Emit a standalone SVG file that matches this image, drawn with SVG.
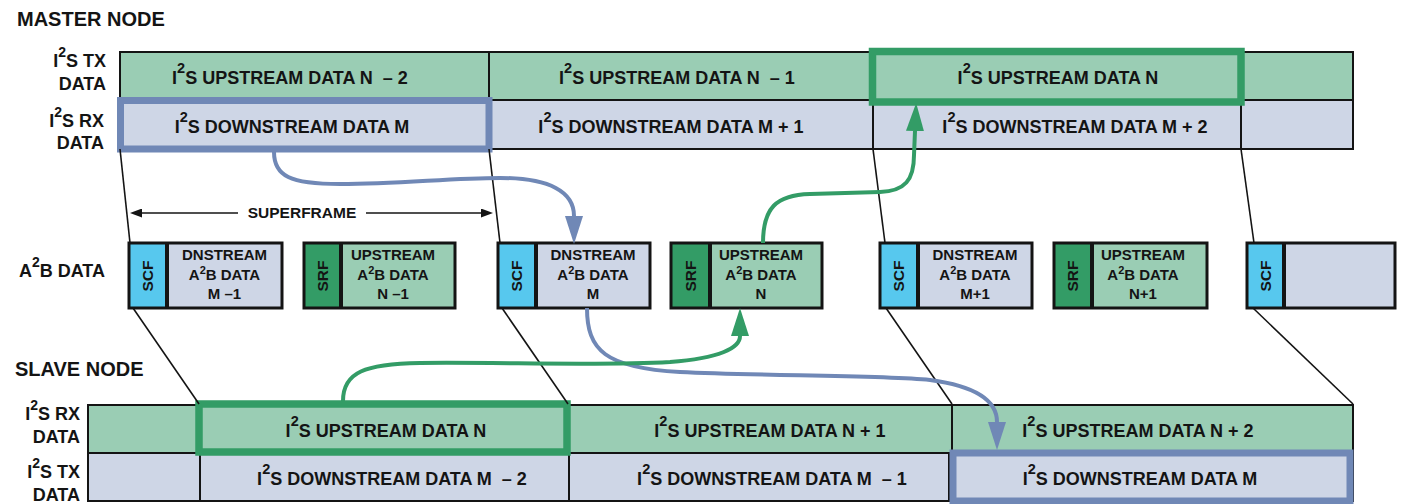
<svg xmlns="http://www.w3.org/2000/svg" width="1405" height="504" viewBox="0 0 1405 504">
<style>
.t{font-family:"Liberation Sans",Arial,Helvetica,sans-serif;font-weight:bold;fill:#141414}
.hd{font-size:20px}
.lb{font-size:18px;text-anchor:end}
.cl{font-size:18px;text-anchor:middle}
.ab{font-size:15px;text-anchor:middle}
.sf{font-size:15.5px;text-anchor:middle}
.up{fill:#9ACDB4;stroke:#141414;stroke-width:2}
.dn{fill:#CED6E6;stroke:#141414;stroke-width:2}
.scf{fill:#57C8EE}
.srf{fill:#339C66}
.upf{fill:#9ACDB4}
.dnf{fill:#CED6E6}
.fr{fill:none;stroke:#141414;stroke-width:3}
.dv{stroke:#141414;stroke-width:4}
.hlb{fill:none;stroke:#7088B6;stroke-width:7}
.hlg{fill:none;stroke:#339C66;stroke-width:7.5}
.sl{stroke:#141414;stroke-width:1.6;fill:none}
.cb{fill:none;stroke:#7088B6;stroke-width:4}
.cg{fill:none;stroke:#339C66;stroke-width:4}
</style>
<defs>
<marker id="ab" markerUnits="userSpaceOnUse" markerWidth="28" markerHeight="20" viewBox="0 0 28 20" refX="0" refY="10" orient="auto"><path d="M0,1 L28,10 L0,19 z" fill="#7088B6"/></marker>
<marker id="ag" markerUnits="userSpaceOnUse" markerWidth="28" markerHeight="20" viewBox="0 0 28 20" refX="0" refY="10" orient="auto"><path d="M0,1 L28,10 L0,19 z" fill="#339C66"/></marker>
<marker id="ak" markerUnits="userSpaceOnUse" markerWidth="12" markerHeight="9" viewBox="0 0 12 9" refX="0" refY="4.5" orient="auto"><path d="M0,0 L12,4.5 L0,9 z" fill="#141414"/></marker>
</defs>

<g id="labels">
<text class="t hd" x="17" y="26">MASTER NODE</text>
<text class="t lb" x="106" y="67">I<tspan font-size="14" dy="-10">2</tspan><tspan dy="10">S TX</tspan></text>
<text class="t lb" x="106" y="90">DATA</text>
<text class="t lb" x="104" y="127">I<tspan font-size="14" dy="-10">2</tspan><tspan dy="10">S RX</tspan></text>
<text class="t lb" x="104" y="149">DATA</text>
<text class="t lb" x="105" y="277">A<tspan font-size="14" dy="-10">2</tspan><tspan dy="10">B DATA</tspan></text>
<text class="t hd" x="15" y="376">SLAVE NODE</text>
<text class="t lb" x="80" y="420">I<tspan font-size="14" dy="-10">2</tspan><tspan dy="10">S RX</tspan></text>
<text class="t lb" x="80" y="443">DATA</text>
<text class="t lb" x="80" y="478">I<tspan font-size="14" dy="-10">2</tspan><tspan dy="10">S TX</tspan></text>
<text class="t lb" x="80" y="501">DATA</text>
</g>

<g id="master-tx">
<rect class="up" x="120" y="52" width="369" height="48"/>
<rect class="up" x="489" y="52" width="383" height="48"/>
<rect class="up" x="872" y="52" width="369" height="48"/>
<rect class="up" x="1241" y="52" width="112" height="48"/>
<text class="t cl" x="290" y="84">I<tspan font-size="14.5" dy="-11">2</tspan><tspan dy="11">S UPSTREAM DATA N &#160;– 2</tspan></text>
<text class="t cl" x="677" y="84">I<tspan font-size="14.5" dy="-11">2</tspan><tspan dy="11">S UPSTREAM DATA N &#160;– 1</tspan></text>
<text class="t cl" x="1058" y="84">I<tspan font-size="14.5" dy="-11">2</tspan><tspan dy="11">S UPSTREAM DATA N</tspan></text>
</g>
<g id="master-rx">
<rect class="dn" x="120" y="100" width="369" height="49"/>
<rect class="dn" x="489" y="100" width="384" height="49"/>
<rect class="dn" x="873" y="100" width="368" height="49"/>
<rect class="dn" x="1241" y="100" width="112" height="49"/>
<text class="t cl" x="292" y="133">I<tspan font-size="14.5" dy="-11">2</tspan><tspan dy="11">S DOWNSTREAM DATA M</tspan></text>
<text class="t cl" x="671" y="133">I<tspan font-size="14.5" dy="-11">2</tspan><tspan dy="11">S DOWNSTREAM DATA M + 1</tspan></text>
<text class="t cl" x="1075" y="133">I<tspan font-size="14.5" dy="-11">2</tspan><tspan dy="11">S DOWNSTREAM DATA M + 2</tspan></text>
</g>
<g id="master-highlights">
<rect class="hlb" x="120.5" y="100.5" width="368.5" height="48.5"/>
<rect class="hlg" x="872.5" y="51.5" width="368.5" height="50.5"/>
</g>

<g id="slave-rx">
<rect class="up" x="88" y="405" width="111" height="48"/>
<rect class="up" x="199" y="405" width="368" height="48"/>
<rect class="up" x="567" y="405" width="385" height="48"/>
<rect class="up" x="952" y="405" width="401" height="48"/>
<text class="t cl" x="386" y="437">I<tspan font-size="14.5" dy="-11">2</tspan><tspan dy="11">S UPSTREAM DATA N</tspan></text>
<text class="t cl" x="770" y="437">I<tspan font-size="14.5" dy="-11">2</tspan><tspan dy="11">S UPSTREAM DATA N + 1</tspan></text>
<text class="t cl" x="1138" y="437">I<tspan font-size="14.5" dy="-11">2</tspan><tspan dy="11">S UPSTREAM DATA N + 2</tspan></text>
</g>
<g id="slave-tx">
<rect class="dn" x="88" y="453" width="112" height="48"/>
<rect class="dn" x="200" y="453" width="369" height="48"/>
<rect class="dn" x="569" y="453" width="380" height="48"/>
<rect class="dn" x="949" y="453" width="404" height="48"/>
<text class="t cl" x="392" y="485">I<tspan font-size="14.5" dy="-11">2</tspan><tspan dy="11">S DOWNSTREAM DATA M &#160;– 2</tspan></text>
<text class="t cl" x="772" y="485">I<tspan font-size="14.5" dy="-11">2</tspan><tspan dy="11">S DOWNSTREAM DATA M &#160;– 1</tspan></text>
<text class="t cl" x="1140" y="485">I<tspan font-size="14.5" dy="-11">2</tspan><tspan dy="11">S DOWNSTREAM DATA M</tspan></text>
</g>
<g id="slave-highlights">
<rect class="hlg" x="199" y="404" width="368" height="48"/>
<rect class="hlb" x="953" y="453" width="397" height="48"/>
</g>

<g id="a2b-dn-m-1">
<rect class="scf" x="129" y="243" width="38" height="65"/><rect class="dnf" x="167" y="243" width="115" height="65"/>
<rect class="fr" x="129" y="243" width="153" height="65"/><line class="dv" x1="167" y1="243" x2="167" y2="308"/>
<text class="t sf" transform="translate(148,276) rotate(-90)" y="5.4">SCF</text>
<text class="t ab" x="224.5" y="260">DNSTREAM</text>
<text class="t ab" x="224.5" y="280">A<tspan font-size="11" dy="-6">2</tspan><tspan dy="6">B DATA</tspan></text>
<text class="t ab" x="224.5" y="299">M –1</text>
</g>
<g id="a2b-up-n-1">
<rect class="srf" x="304" y="243" width="37" height="65"/><rect class="upf" x="341" y="243" width="114" height="65"/>
<rect class="fr" x="304" y="243" width="151" height="65"/><line class="dv" x1="341" y1="243" x2="341" y2="308"/>
<text class="t sf" transform="translate(322.5,276) rotate(-90)" y="5.4">SRF</text>
<text class="t ab" x="393" y="260">UPSTREAM</text>
<text class="t ab" x="393" y="280">A<tspan font-size="11" dy="-6">2</tspan><tspan dy="6">B DATA</tspan></text>
<text class="t ab" x="393" y="299">N –1</text>
</g>
<g id="a2b-dn-m">
<rect class="scf" x="498" y="243" width="38" height="65"/><rect class="dnf" x="536" y="243" width="114" height="65"/>
<rect class="fr" x="498" y="243" width="152" height="65"/><line class="dv" x1="536" y1="243" x2="536" y2="308"/>
<text class="t sf" transform="translate(517,276) rotate(-90)" y="5.4">SCF</text>
<text class="t ab" x="593" y="260">DNSTREAM</text>
<text class="t ab" x="593" y="280">A<tspan font-size="11" dy="-6">2</tspan><tspan dy="6">B DATA</tspan></text>
<text class="t ab" x="593" y="299">M</text>
</g>
<g id="a2b-up-n">
<rect class="srf" x="671" y="243" width="39" height="65"/><rect class="upf" x="710" y="243" width="112" height="65"/>
<rect class="fr" x="671" y="243" width="151" height="65"/><line class="dv" x1="710" y1="243" x2="710" y2="308"/>
<text class="t sf" transform="translate(690.5,276) rotate(-90)" y="5.4">SRF</text>
<text class="t ab" x="761" y="260">UPSTREAM</text>
<text class="t ab" x="761" y="280">A<tspan font-size="11" dy="-6">2</tspan><tspan dy="6">B DATA</tspan></text>
<text class="t ab" x="761" y="299">N</text>
</g>
<g id="a2b-dn-m1">
<rect class="scf" x="880" y="243" width="38" height="65"/><rect class="dnf" x="918" y="243" width="114" height="65"/>
<rect class="fr" x="880" y="243" width="152" height="65"/><line class="dv" x1="918" y1="243" x2="918" y2="308"/>
<text class="t sf" transform="translate(899,276) rotate(-90)" y="5.4">SCF</text>
<text class="t ab" x="975" y="260">DNSTREAM</text>
<text class="t ab" x="975" y="280">A<tspan font-size="11" dy="-6">2</tspan><tspan dy="6">B DATA</tspan></text>
<text class="t ab" x="975" y="299">M+1</text>
</g>
<g id="a2b-up-n1">
<rect class="srf" x="1054" y="243" width="38" height="65"/><rect class="upf" x="1092" y="243" width="115" height="65"/>
<rect class="fr" x="1054" y="243" width="153" height="65"/><line class="dv" x1="1092" y1="243" x2="1092" y2="308"/>
<text class="t sf" transform="translate(1073,276) rotate(-90)" y="5.4">SRF</text>
<text class="t ab" x="1143" y="260">UPSTREAM</text>
<text class="t ab" x="1143" y="280">A<tspan font-size="11" dy="-6">2</tspan><tspan dy="6">B DATA</tspan></text>
<text class="t ab" x="1143" y="299">N+1</text>
</g>
<g id="a2b-next">
<rect class="scf" x="1247" y="243" width="37" height="65"/><rect class="dnf" x="1284" y="243" width="111" height="65"/>
<rect class="fr" x="1247" y="243" width="148" height="65"/><line class="dv" x1="1284" y1="243" x2="1284" y2="308"/>
<text class="t sf" transform="translate(1265.5,276) rotate(-90)" y="5.4">SCF</text>
</g>

<g id="superframe">
<text class="t sf" x="302" y="218">SUPERFRAME</text>
</g>

<g id="connectors">
<line class="sl" x1="120" y1="149" x2="130" y2="243"/>
<line class="sl" x1="489" y1="149" x2="500" y2="243"/>
<line class="sl" x1="873" y1="149" x2="885" y2="243"/>
<line class="sl" x1="1241" y1="149" x2="1254" y2="243"/>
<line class="sl" x1="133" y1="308" x2="199" y2="404"/>
<line class="sl" x1="502" y1="308" x2="568" y2="404"/>
<line class="sl" x1="886" y1="308" x2="952" y2="404"/>
<line class="sl" x1="1253" y1="308" x2="1353" y2="404"/>
<line class="sl" x1="238" y1="213" x2="142" y2="213" marker-end="url(#ak)"/>
<line class="sl" x1="366" y1="213" x2="481" y2="213" marker-end="url(#ak)"/>
<path class="cb" d="M274,152 C274,176 290,184 340,184 C400,184 450,178 500,178 C550,178 574,192 574,216" marker-end="url(#ab)"/>
<path class="cb" d="M587,308 C587,350 605,368 680,372 C760,376 880,375 930,380 C975,386 997,400 997,422" marker-end="url(#ab)"/>
<path class="cg" d="M343,401 C343,372 365,364 420,363 C500,362 600,366 670,362 C720,358 740,348 740,336" marker-end="url(#ag)"/>
<path class="cg" d="M763,243 C763,208 776,195 810,194 L880,192 C905,191 914,180 914,155 L915,131" marker-end="url(#ag)"/>
</g>
</svg>
